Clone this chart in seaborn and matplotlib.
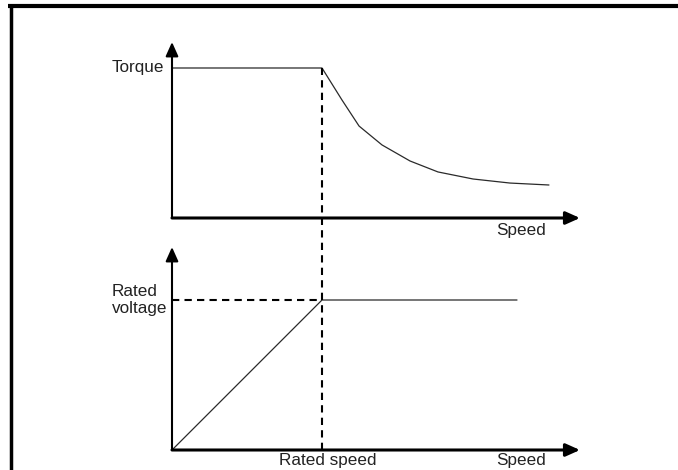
import matplotlib
matplotlib.use("Agg")
import matplotlib.pyplot as plt
import seaborn as sns
import numpy as np
from matplotlib.lines import Line2D

# Speed normalised so that rated speed = 1, torque / voltage normalised to rated = 1
speed_torque = [0.0, 1.0, 1.133, 1.247, 1.40, 1.587, 1.773, 2.007, 2.253, 2.513]
torque = [1.0, 1.0, 0.787, 0.613, 0.487, 0.38, 0.307, 0.26, 0.233, 0.22]
speed_voltage = [0.0, 1.0, 2.30]
voltage = [0.0, 1.0, 1.0]
rated_speed = 1.0
rated_voltage = 1.0
speed_axis_end = 2.72
torque_axis_end = 1.173
voltage_axis_end = 1.353

# Vertical offset of the torque panel above the voltage panel
TOP = 1.5467
PX = 150.0  # pixels per unit

sns.set_style("white")
plt.rcParams["font.family"] = ["Liberation Sans", "DejaVu Sans"]

fig = plt.figure(figsize=(6.78, 4.70), dpi=100)
ax = fig.add_axes([0, 0, 1, 1])
ax.set_xlim(-172 / PX, (678 - 172) / PX)
ax.set_ylim(-20 / PX, 450 / PX)
ax.axis("off")

# Curves
sns.lineplot(x=speed_torque, y=np.array(torque) + TOP, ax=ax, color="#2a2a2a",
             lw=0.9, estimator=None)
sns.lineplot(x=speed_voltage, y=voltage, ax=ax, color="#2a2a2a",
             lw=0.9, estimator=None)

# Axes with arrow heads
arrow = dict(arrowstyle="-|>,head_length=0.85,head_width=0.38", color="black",
             shrinkA=0, shrinkB=0)
for base, yend in [(TOP, torque_axis_end), (0.0, voltage_axis_end)]:
    ax.annotate("", xy=(speed_axis_end, base), xytext=(0, base),
                arrowprops=dict(arrow, lw=2.2))
    ax.annotate("", xy=(0, base + yend), xytext=(0, base),
                arrowprops=dict(arrow, lw=1.5))

# Dashed guide lines
ax.plot([rated_speed, rated_speed], [0, TOP + torque[1]], color="black",
        lw=1.5, dashes=(3.5, 2.5))
ax.plot([0, rated_speed], [rated_voltage, rated_voltage], color="black",
        lw=1.5, dashes=(3.5, 2.5))

# Labels
fs = 12.3
txt = "#222222"
ax.text(-60 / PX, TOP + 1.0, "Torque", ha="left", va="center", fontsize=fs, color=txt)
ax.text(-60 / PX, rated_voltage, "Rated\nvoltage", ha="left", va="center",
        fontsize=fs, linespacing=1.1, color=txt)
ax.text(349 / PX, TOP - 13 / PX, "Speed", ha="center", va="center", fontsize=fs,
        color=txt)
ax.text(349 / PX, -11 / PX, "Speed", ha="center", va="center", fontsize=fs, color=txt)
ax.text(rated_speed + 6 / PX, -11 / PX, "Rated speed", ha="center", va="center",
        fontsize=fs, color=txt)

# Frame (top and left edges of the boxed figure)
fig.add_artist(Line2D([8 / 678, 1], [1 - 6 / 470] * 2, transform=fig.transFigure,
                      lw=3, color="black", solid_capstyle="butt"))
fig.add_artist(Line2D([10.5 / 678] * 2, [0, 1 - 4 / 470], transform=fig.transFigure,
                      lw=2.5, color="black", solid_capstyle="butt"))

fig.savefig("out.png", dpi=100)
